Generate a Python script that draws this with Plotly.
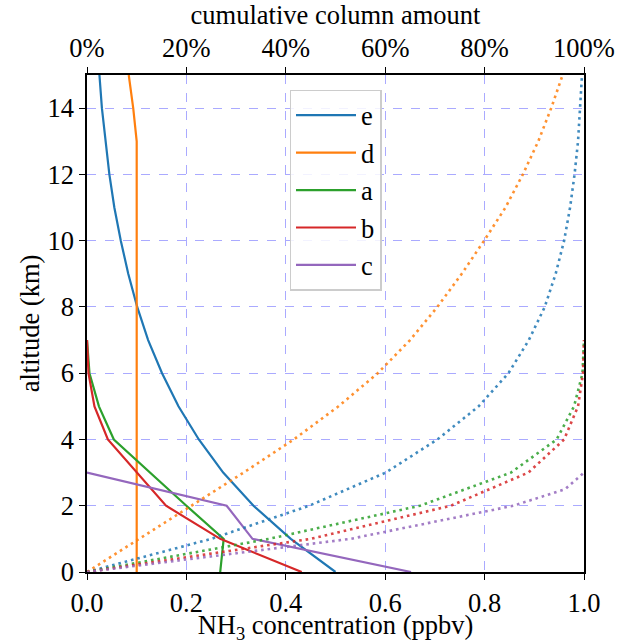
import plotly.graph_objects as go

# ---------------- data ----------------
alt_km = [0, 1, 2, 3, 4, 5, 6, 7, 8, 9, 10, 11, 12, 13, 14, 15]

# NH3 concentration profiles (ppbv)
conc_e = [0.50, 0.41, 0.335, 0.274, 0.225, 0.184, 0.151, 0.123, 0.101, 0.083, 0.068, 0.055, 0.045, 0.037, 0.030, 0.025]
conc_d = [0.10, 0.10, 0.10, 0.10, 0.10, 0.10, 0.10, 0.10, 0.10, 0.10, 0.10, 0.10, 0.10, 0.10, 0.093, 0.084]
alt_ab = [0, 1, 2, 3, 4, 5, 6, 7]
conc_a = [0.268, 0.275, 0.200, 0.127, 0.054, 0.024, 0.005, 0.0]
conc_b = [0.432, 0.268, 0.159, 0.101, 0.042, 0.015, 0.003, 0.0]
alt_c = [0, 1, 2, 3]
conc_c = [0.652, 0.333, 0.281, 0.0]

# cumulative column amount (fraction of total column)
cum_e = [0.0, 0.25, 0.447, 0.601, 0.705, 0.788, 0.848, 0.889, 0.921, 0.943, 0.960, 0.972, 0.981, 0.988, 0.992, 0.996]
cum_d = [0.0, 0.105, 0.21, 0.315, 0.416, 0.506, 0.585, 0.65, 0.705, 0.754, 0.799, 0.842, 0.877, 0.908, 0.934, 0.957]
cum_a = [0.0, 0.366, 0.670, 0.853, 0.945, 0.980, 0.997, 1.0]
cum_b = [0.0, 0.45, 0.732, 0.888, 0.960, 0.988, 0.998, 1.0]
alt_c_cum = [0, 1, 2, 2.5, 3]
cum_c = [0.0, 0.53, 0.858, 0.962, 1.0]

names = ["e", "d", "a", "b", "c"]
colors = ["#1f77b4", "#ff7f0e", "#2ca02c", "#d62728", "#9467bd"]

profiles = [(conc_e, alt_km), (conc_d, alt_km), (conc_a, alt_ab), (conc_b, alt_ab), (conc_c, alt_c)]
cumulatives = [(cum_e, alt_km), (cum_d, alt_km), (cum_a, alt_ab), (cum_b, alt_ab), (cum_c, alt_c_cum)]

x_ticks = [0.0, 0.2, 0.4, 0.6, 0.8, 1.0]
y_ticks = [0, 2, 4, 6, 8, 10, 12, 14]

FONT = "Liberation Serif, Times New Roman, Times, serif"
FS = 26.5
GRID = "#aaaaff"

fig = go.Figure()

for (xs, ys), nm, col in zip(cumulatives, names, colors):
    fig.add_trace(go.Scatter(x=xs, y=ys, xaxis="x2", yaxis="y", mode="lines",
                             line=dict(color=col, width=2.6, dash="2.6px,3.9px"),
                             opacity=0.85, showlegend=False, hoverinfo="skip"))

for (xs, ys), nm, col in zip(profiles, names, colors):
    fig.add_trace(go.Scatter(x=xs, y=ys, mode="lines", name=nm,
                             line=dict(color=col, width=2.2)))

axis_common = dict(
    showline=True, linecolor="black", linewidth=1.6,
    ticks="outside", ticklen=6, tickwidth=1.4, tickcolor="black",
    tickfont=dict(family=FONT, size=FS, color="black"),
    zeroline=False, automargin=False,
    showgrid=True, gridcolor=GRID, gridwidth=1, griddash="dash",
)

fig.update_layout(
    width=640, height=644,
    margin=dict(l=87, r=56, t=75, b=72),
    paper_bgcolor="white", plot_bgcolor="white",
    font=dict(family=FONT, size=FS, color="black"),
    xaxis=dict(range=[0, 1], tickvals=x_ticks, tickformat=".1f",
               title=dict(text="NH<sub>3</sub> concentration (ppbv)",
                          font=dict(family=FONT, size=FS), standoff=11),
               **axis_common),
    xaxis2=dict(range=[0, 1], tickvals=x_ticks, tickformat=".0%",
                overlaying="x", side="top", anchor="y",
                title=dict(text="cumulative column amount",
                           font=dict(family=FONT, size=FS), standoff=6),
                **axis_common),
    yaxis=dict(range=[0, 15], tickvals=y_ticks, mirror=True,
               title=dict(text="altitude (km)", font=dict(family=FONT, size=FS), standoff=0),
               **axis_common),
    legend=dict(x=0.5, xanchor="center", y=0.97, yanchor="top",
                bgcolor="rgba(255,255,255,0.85)", bordercolor="#cccccc", borderwidth=1.5,
                font=dict(family=FONT, size=FS), itemwidth=60,
                tracegroupgap=0),
    showlegend=True,
)

fig.write_html("out.html",
               config={"displayModeBar": False},
               post_script="document.body.style.margin='0';document.body.style.overflow='hidden';")
